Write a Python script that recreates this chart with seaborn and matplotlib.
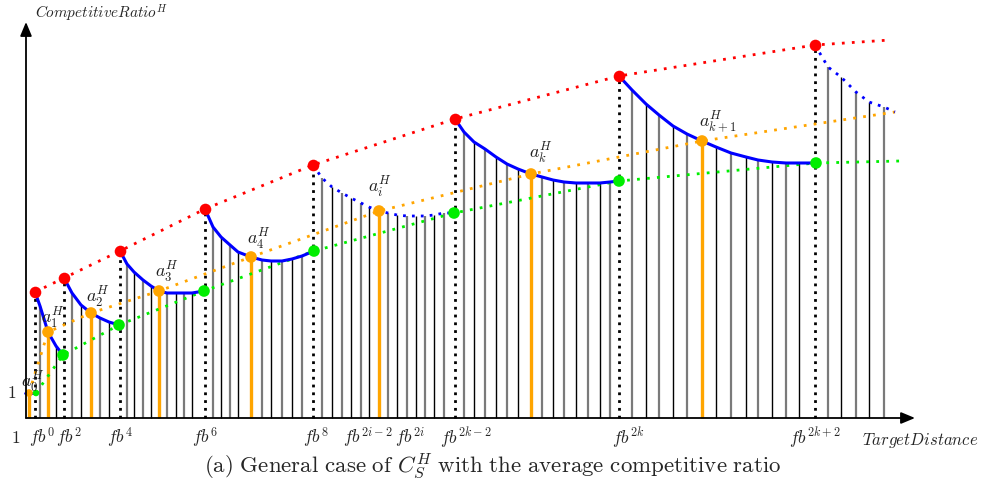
import matplotlib
matplotlib.use("Agg")
import matplotlib.pyplot as plt
import seaborn as sns
import numpy as np

# ---------------- data (schematic units, origin at axes corner) ----------------
red_x = [9, 38, 94, 179, 287, 429, 593, 789]
red_y = [126, 140, 167, 209, 253, 299, 342, 373]
red_end = (864, 378)

green_x = [10, 37, 93, 178, 288, 428, 593, 790]
green_y = [25, 63, 93, 127, 167, 205, 237, 255]
green_end = (874, 257)

orange_x = [3, 22, 65, 133, 225, 353, 505, 676]
orange_y = [25, 86, 105, 127, 161, 207, 244, 277]
orange_end = (869, 306)
orange_labels = [r"$a_0^H$", r"$a_1^H$", r"$a_2^H$", r"$a_3^H$", r"$a_4^H$",
                 r"$a_i^H$", r"$a_k^H$", r"$a_{k+1}^H$"]
label_x = [7, 27, 72, 141, 233, 354, 515, 692]
label_y = [36, 100, 121, 146, 179, 231, 265, 296]

stems_x = [
    [14, 30],
    [46, 55, 74, 83],
    [101, 108, 117, 125, 141, 150, 158, 166],
    [187, 195, 204, 212, 236, 245, 256, 266, 276],
    [296, 306, 316, 325, 335, 343, 362, 371, 381, 390, 399, 408, 418],
    [438, 448, 459, 470, 481, 492, 516, 527, 538, 550, 562, 574, 584],
    [606, 620, 633, 647, 661, 690, 705, 720, 732, 746, 760, 773],
    [802, 815, 830, 843, 858],
]
stems_top = [
    [112, 72],
    [125, 113, 100, 96],
    [154, 146, 138, 132, 125, 125, 125, 125],
    [191, 181, 173, 166, 158, 157, 157, 159, 162],
    [240, 231, 225, 220, 215, 211, 205, 203, 202, 202, 202, 203, 205],
    [286, 276, 269, 261, 254, 249, 241, 238, 236, 235, 235, 235, 236],
    [328, 314, 303, 292, 284, 271, 265, 261, 258, 256, 255, 255],
    [351, 341, 326, 316, 311],
]
blue_tail = (869, 306)
a0_blue_x = [-1, 10]
a0_blue_y = [25, 25]
dotted_segments = [4, 7]

xtick_pos = [-10, 16, 43, 94, 179, 290, 342, 384, 440, 602, 789]
xtick_labels = [r"$1$", r"$fb^0$", r"$fb^2$", r"$fb^4$", r"$fb^6$", r"$fb^8$",
                r"$fb^{2i-2}$", r"$fb^{2i}$", r"$fb^{2k-2}$", r"$fb^{2k}$", r"$fb^{2k+2}$"]

# ---------------- style ----------------
sns.set_theme(style="white")
plt.rcParams["mathtext.fontset"] = "cm"
plt.rcParams["font.family"] = ["DejaVu Sans"]

fig = plt.figure(figsize=(9.87, 4.93), dpi=100)
ax = fig.add_axes([0, 0, 1, 1])
ax.set_xlim(-26, 961)
ax.set_ylim(-75, 418)
ax.axis("off")

RED, ORANGE, GREEN, BLUE = "#ff0000", "#ffa500", "#00ee00", "#0000ff"

# stems
for xs, ts in zip(stems_x, stems_top):
    for k, (x, t) in enumerate(zip(xs, ts)):
        if k % 2 == 0:
            ax.vlines(x, 0, t, color="#7a7a7a", lw=1.6, zorder=1)
        else:
            ax.vlines(x, 0, t, color="black", lw=1.0, zorder=1)

# black dotted verticals at peaks
ax.vlines(red_x, 0, red_y, color="black", lw=2.0, linestyles=[(0, (1, 1.8))], zorder=2)
# orange verticals
ax.vlines(orange_x, 0, orange_y, color=ORANGE, lw=2.4, zorder=3)

# dotted envelopes
dot = (0, (1, 2.6))
sns.lineplot(x=red_x + [red_end[0]], y=red_y + [red_end[1]], color=RED, lw=2.0,
             linestyle=dot, sort=False, estimator=None, ax=ax, zorder=4)
sns.lineplot(x=orange_x + [orange_end[0]], y=orange_y + [orange_end[1]], color=ORANGE, lw=2.0,
             linestyle=dot, sort=False, estimator=None, ax=ax, zorder=4)
sns.lineplot(x=green_x + [green_end[0]], y=green_y + [green_end[1]], color=GREEN, lw=2.0,
             linestyle=dot, sort=False, estimator=None, ax=ax, zorder=4)

# blue curves
for j in range(len(stems_x)):
    pts = [(red_x[j], red_y[j])] + list(zip(stems_x[j], stems_top[j]))
    if j + 1 < len(orange_x):
        pts += [(orange_x[j + 1], orange_y[j + 1]), (green_x[j + 1], green_y[j + 1])]
    else:
        pts += [blue_tail]
    pts.sort()
    bx = [p[0] for p in pts]
    by = [p[1] for p in pts]
    if j in dotted_segments:
        sns.lineplot(x=bx, y=by, color=BLUE, lw=2.0, linestyle=(0, (1, 2.2)),
                     sort=False, estimator=None, ax=ax, zorder=5)
    else:
        sns.lineplot(x=bx, y=by, color=BLUE, lw=2.2, sort=False, estimator=None,
                     ax=ax, zorder=5)
sns.lineplot(x=a0_blue_x, y=a0_blue_y, color=BLUE, lw=2.0, sort=False, estimator=None,
             ax=ax, zorder=5)

# points
sizes = [22] + [70] * (len(red_x) - 1)
sns.scatterplot(x=red_x, y=red_y, color=RED, s=70, linewidth=0, ax=ax, zorder=6)
sns.scatterplot(x=green_x, y=green_y, color=GREEN, size=sizes, sizes=(22, 70),
                linewidth=0, ax=ax, zorder=6, legend=False)
sns.scatterplot(x=orange_x, y=orange_y, color=ORANGE, size=sizes, sizes=(30, 70),
                linewidth=0, ax=ax, zorder=7, legend=False)

# labels of a points
for lx, ly, lab in zip(label_x, label_y, orange_labels):
    ax.text(lx, ly, lab, fontsize=13, ha="center", va="center", color="#222222", zorder=8)

# axes arrows
arrow = dict(arrowstyle="-|>,head_length=0.6,head_width=0.25", color="black",
             lw=1.3, shrinkA=0, shrinkB=0, mutation_scale=14)
ax.annotate("", xy=(889, 0), xytext=(0, 0), arrowprops=arrow, zorder=9)
ax.annotate("", xy=(0, 396), xytext=(0, 0), arrowprops=arrow, zorder=9)

# tick labels
for xp, lab in zip(xtick_pos, xtick_labels):
    ax.text(xp, -20, lab, fontsize=12.5, ha="center", va="center")
ax.text(-14, 25, r"$1$", fontsize=12.5, ha="center", va="center")
ax.text(894, -22, r"$TargetDistance$", fontsize=12, ha="center", va="center")
ax.text(9, 405, r"$CompetitiveRatio^H$", fontsize=11, ha="left", va="center")
ax.text(467, -48,
        r"$\mathrm{(a)\ General\ case\ of\ }C_S^H\mathrm{\ with\ the\ average\ competitive\ ratio}$",
        fontsize=16.5, ha="center", va="center")

fig.savefig("out.png", dpi=100)
